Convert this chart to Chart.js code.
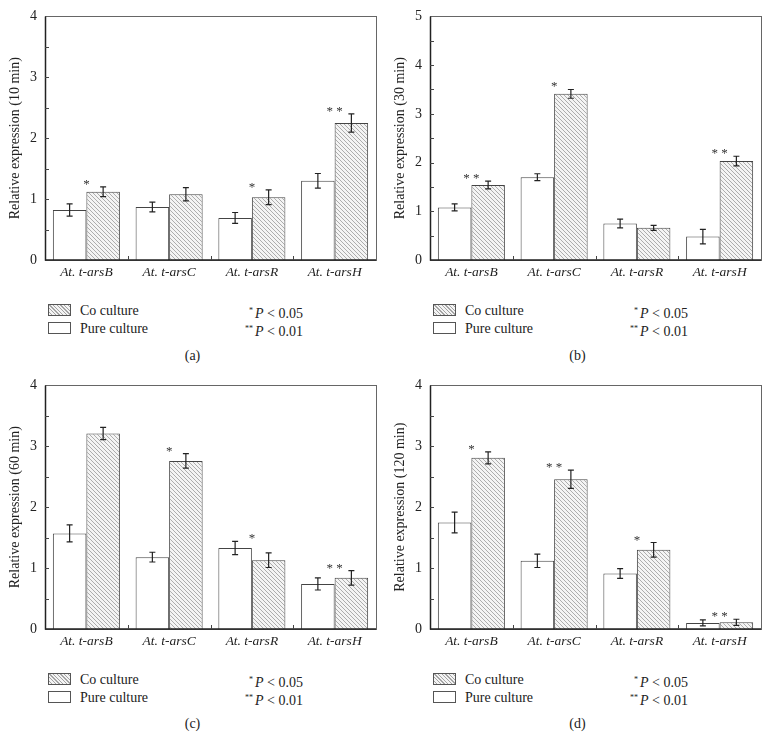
<!DOCTYPE html>
<html>
<head>
<meta charset="utf-8">
<script src="https://cdn.jsdelivr.net/npm/chart.js@4.4.1/dist/chart.umd.min.js"></script>
<style>
  body { margin: 0; background: #fff; width: 769px; height: 740px; position: relative; overflow: hidden;
         font-family: 'Liberation Serif', 'DejaVu Serif', serif; color: #222; }
  .panel { position: absolute; width: 385px; height: 370px; }
  .panel canvas { position: absolute; left: 0; top: 0; }
  .key { position: absolute; left: 48px; font-size: 14px; line-height: 14px; }
  .sw { display: inline-block; width: 21px; height: 10px; border: 1px solid #555; vertical-align: -1px; margin-right: 9px; background: #fff; }
  .sw.hatch { background: repeating-linear-gradient(45deg, #f4f4f4 0 1.7px, #a5a5a5 1.7px 2.6px); }
  .pval { position: absolute; left: 240px; font-size: 14px; line-height: 14px; width: 63px; text-align: right; }
  .pval sup { font-size: 8px; vertical-align: 5px; margin-right: 2px; }
  .tag { position: absolute; left: 0; width: 385px; text-align: center; font-size: 14px; }
</style>
</head>
<body>

<script>
// categorias y valores
var categories = ['At. t-arsB', 'At. t-arsC', 'At. t-arsR', 'At. t-arsH'];
var yTicksMax = [4, 5, 4, 4];
var panelTags = ['(a)', '(b)', '(c)', '(d)'];
var timeLabels = ['10 min', '30 min', '60 min', '120 min'];

// 10 min
var pure10 = [0.82, 0.87, 0.69, 1.30];
var pureErr10 = [0.10, 0.08, 0.09, 0.12];
var co10 = [1.12, 1.08, 1.03, 2.25];
var coErr10 = [0.08, 0.11, 0.12, 0.15];
var stars10 = ['*', '', '*', '**'];

// 30 min
var pure30 = [1.08, 1.70, 0.75, 0.48];
var pureErr30 = [0.07, 0.07, 0.09, 0.15];
var co30 = [1.54, 3.41, 0.66, 2.03];
var coErr30 = [0.08, 0.09, 0.05, 0.10];
var stars30 = ['**', '*', '', '**'];

// 60 min
var pure60 = [1.57, 1.18, 1.33, 0.74];
var pureErr60 = [0.14, 0.08, 0.11, 0.10];
var co60 = [3.21, 2.76, 1.13, 0.84];
var coErr60 = [0.10, 0.12, 0.12, 0.12];
var stars60 = ['', '*', '*', '**'];

// 120 min
var pure120 = [1.75, 1.12, 0.91, 0.10];
var pureErr120 = [0.17, 0.11, 0.08, 0.05];
var co120 = [2.81, 2.46, 1.30, 0.11];
var coErr120 = [0.10, 0.15, 0.12, 0.05];
var stars120 = ['*', '**', '*', '**'];

var panels = [
  { pure: pure10, pureErr: pureErr10, co: co10, coErr: coErr10, stars: stars10 },
  { pure: pure30, pureErr: pureErr30, co: co30, coErr: coErr30, stars: stars30 },
  { pure: pure60, pureErr: pureErr60, co: co60, coErr: coErr60, stars: stars60 },
  { pure: pure120, pureErr: pureErr120, co: co120, coErr: coErr120, stars: stars120 }
];

var serif = "'Liberation Serif', 'DejaVu Serif', serif";

// patron rayado de las barras "Co culture"
var makeHatch = (ctx) => {
  var c = document.createElement('canvas');
  c.width = 4; c.height = 4;
  var g = c.getContext('2d');
  g.fillStyle = '#f4f4f4';
  g.fillRect(0, 0, 4, 4);
  g.strokeStyle = '#a5a5a5';
  g.lineWidth = 0.9;
  g.beginPath();
  g.moveTo(0, 0); g.lineTo(4, 4);
  g.moveTo(-1, 3); g.lineTo(1, 5);
  g.moveTo(3, -1); g.lineTo(5, 1);
  g.stroke();
  return ctx.createPattern(c, 'repeat');
}

// marco, ticks internos, barras de error y asteriscos
var extras = {
  id: 'extras',
  afterDatasetsDraw: (chart, args, opts) => {
    var ctx = chart.ctx;
    var a = chart.chartArea;
    var xs = chart.scales.x;
    var ys = chart.scales.y;
    ctx.save();

    // error bars
    ctx.strokeStyle = '#222';
    ctx.lineWidth = 1.2;
    var tops = [];
    [opts.pureErr, opts.coErr].forEach((errs, di) => {
      var meta = chart.getDatasetMeta(di);
      var vals = chart.data.datasets[di].data;
      meta.data.forEach((bar, i) => {
        var yt = ys.getPixelForValue(vals[i] + errs[i]);
        var yb = ys.getPixelForValue(vals[i] - errs[i]);
        ctx.beginPath();
        ctx.moveTo(bar.x, yt); ctx.lineTo(bar.x, yb);
        ctx.moveTo(bar.x - 3, yt); ctx.lineTo(bar.x + 3, yt);
        ctx.moveTo(bar.x - 3, yb); ctx.lineTo(bar.x + 3, yb);
        ctx.stroke();
        tops[i] = tops[i] === undefined ? yt : Math.min(tops[i], yt);
      });
    });

    // stars
    ctx.fillStyle = '#333';
    ctx.font = '13px ' + serif;
    ctx.textAlign = 'center';
    ctx.textBaseline = 'alphabetic';
    opts.stars.forEach((s, i) => {
      if (!s) return;
      var txt = s.split('').join(' ');
      ctx.fillText(txt, xs.getPixelForValue(i), tops[i] + 1);
    });

    // frame
    ctx.lineWidth = 1;
    ctx.strokeStyle = '#666';
    ctx.strokeRect(Math.round(a.left) + 0.5, Math.round(a.top) + 0.5,
                   Math.round(a.right - a.left), Math.round(a.bottom - a.top));
    ctx.strokeStyle = '#222';
    ctx.lineWidth = 1.5;
    ctx.beginPath();
    ctx.moveTo(a.left + 0.5, a.top); ctx.lineTo(a.left + 0.5, a.bottom);
    ctx.lineTo(a.right, a.bottom);
    ctx.stroke();

    // y ticks pointing inside (major + minor)
    ctx.lineWidth = 1;
    ctx.strokeStyle = '#444';
    for (var v = 0.5; v < ys.max; v += 0.5) {
      var y = Math.round(ys.getPixelForValue(v)) + 0.5;
      ctx.beginPath();
      ctx.moveTo(a.left, y); ctx.lineTo(a.left + 4, y);
      ctx.stroke();
    }
    // x ticks between categories
    for (var k = 1; k < categories.length; k++) {
      var x = Math.round((xs.getPixelForValue(k - 1) + xs.getPixelForValue(k)) / 2) + 0.5;
      ctx.beginPath();
      ctx.moveTo(x, a.bottom); ctx.lineTo(x, a.bottom - 4);
      ctx.stroke();
    }
    ctx.restore();
  }
};

var positions = [[0, 0], [385, 0], [0, 369], [385, 369]];

panels.forEach((p, n) => {
  var div = document.createElement('div');
  div.className = 'panel';
  div.style.left = positions[n][0] + 'px';
  div.style.top = positions[n][1] + 'px';
  div.innerHTML =
    '<canvas width="385" height="285"></canvas>' +
    '<div class="key" style="top:304px"><span class="sw hatch"></span>Co culture</div>' +
    '<div class="key" style="top:322px"><span class="sw"></span>Pure culture</div>' +
    '<div class="pval" style="top:304px"><sup>*</sup><i>P</i> &lt; 0.05</div>' +
    '<div class="pval" style="top:322px"><sup>**</sup><i>P</i> &lt; 0.01</div>' +
    '<div class="tag" style="top:' + (n < 2 ? 348 : 347) + 'px">' + panelTags[n] + '</div>';
  document.body.appendChild(div);

  var canvas = div.querySelector('canvas');
  var ctx = canvas.getContext('2d');

  new Chart(ctx, {
    type: 'bar',
    data: {
      labels: categories,
      datasets: [{
        label: 'Pure culture',
        data: p.pure,
        backgroundColor: '#ffffff',
        borderColor: '#444',
        borderWidth: 1
      }, {
        label: 'Co culture',
        data: p.co,
        backgroundColor: makeHatch(ctx),
        borderColor: '#444',
        borderWidth: 1
      }]
    },
    options: {
      responsive: false,
      animation: false,
      events: [],
      layout: { padding: { left: 0, right: 9, top: 13, bottom: 0 } },
      datasets: { bar: { categoryPercentage: 0.81, barPercentage: 1.0 } },
      plugins: {
        legend: { display: false },
        tooltip: { enabled: false },
        extras: p
      },
      scales: {
        x: {
          grid: { display: false, drawTicks: false },
          border: { display: false },
          ticks: { color: '#222', padding: 4, font: { family: serif, size: 13.5, style: 'italic' } },
          afterFit: (s) => { s.height = 25; }
        },
        y: {
          min: 0,
          max: yTicksMax[n],
          grid: { display: false, drawTicks: false },
          border: { display: false },
          ticks: { stepSize: 1, color: '#222', padding: 8, font: { family: serif, size: 14 } },
          title: {
            display: true,
            text: 'Relative expression (' + timeLabels[n] + ')',
            color: '#222',
            font: { family: serif, size: 14 },
            padding: { top: 7, bottom: 0 }
          },
          afterFit: (s) => { s.width = 45; }
        }
      }
    },
    plugins: [extras]
  });
});
</script>
</body>
</html>
